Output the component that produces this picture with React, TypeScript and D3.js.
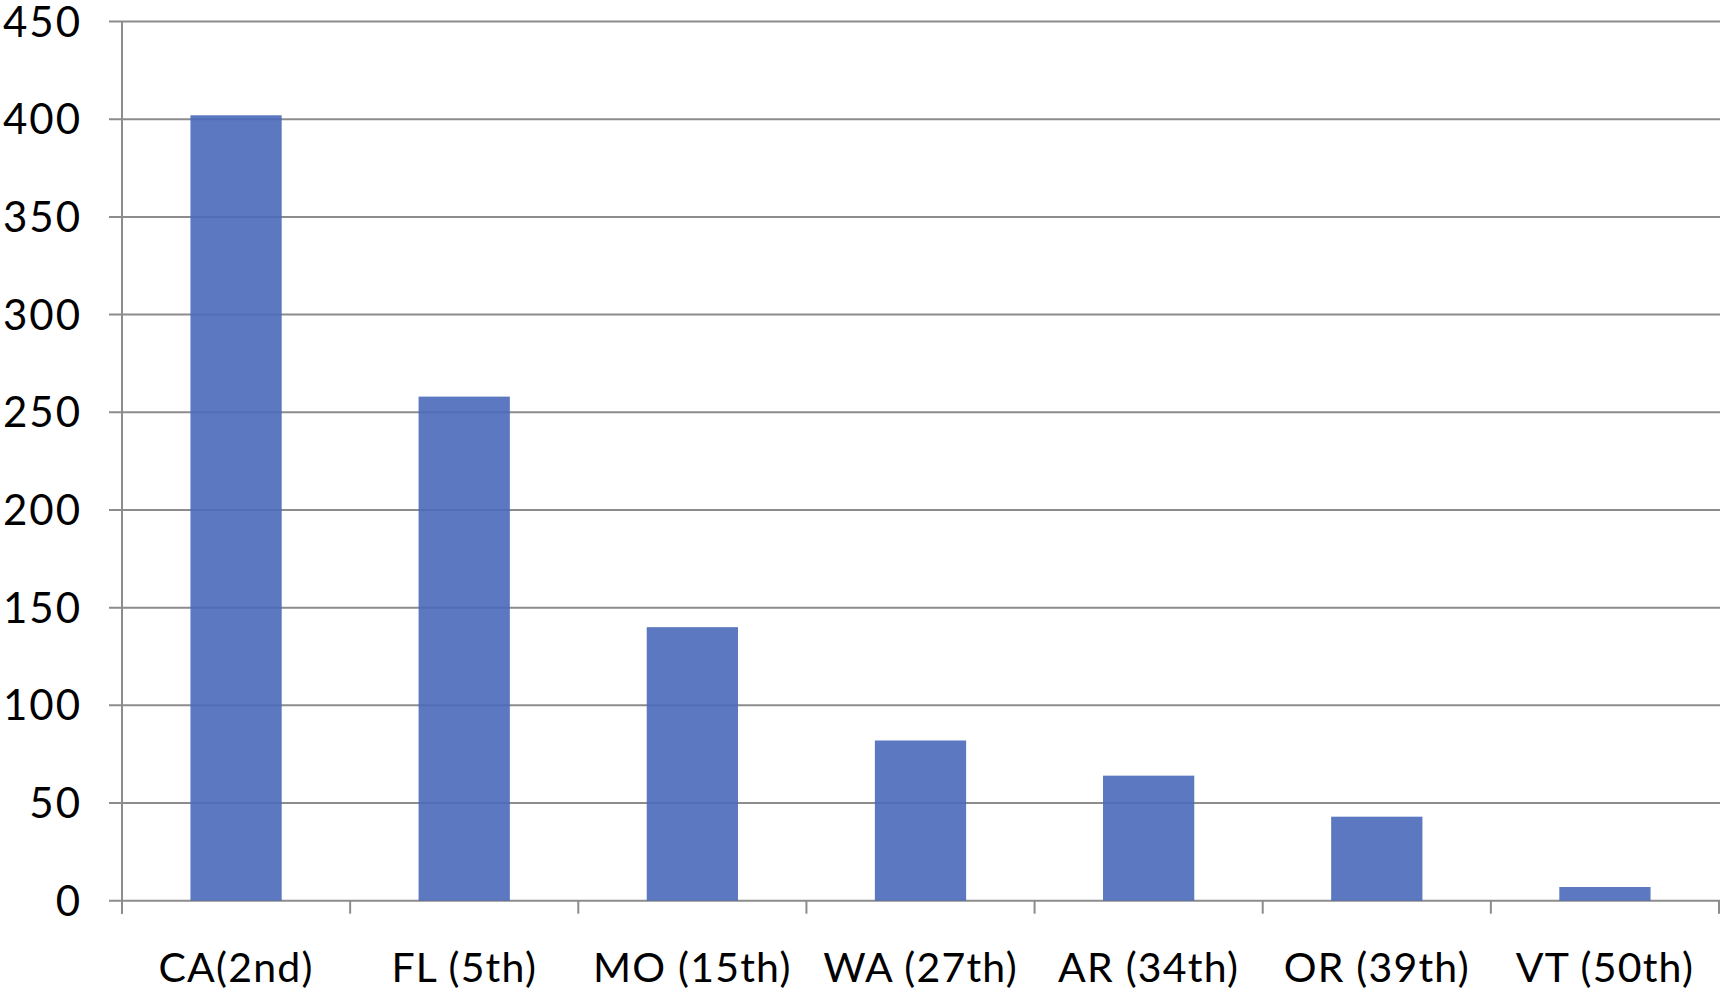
import * as d3 from "d3";

const categories = [
  "CA(2nd)",
  "FL (5th)",
  "MO (15th)",
  "WA (27th)",
  "AR (34th)",
  "OR (39th)",
  "VT (50th)",
];
const values = [402, 258, 140, 82, 64, 43, 7];
const yTicks = [0, 50, 100, 150, 200, 250, 300, 350, 400, 450];

const W = 1721;
const H = 990;
const left = 122;
const right = 1719;
const top = 21.5;
const bottom = 900.7;
const font = "Lato, 'Open Sans', sans-serif";

const App = () => {
  const x = d3
    .scaleBand()
    .domain(categories)
    .range([left, right])
    .paddingInner(0.6)
    .paddingOuter(0.3);
  const y = d3.scaleLinear().domain([0, 450]).range([bottom, top]);
  const step = x.step();
  const bandStart = (c: string) => x(c)! - x.paddingInner() * step / 2;

  return (
    <svg
      width={W}
      height={H}
      style={{ position: "absolute", left: 0, top: 0, background: "#fff" }}
    >
      {/* gridlines */}
      {yTicks.map((t) => (
        <line
          key={t}
          x1={left - 13}
          x2={right + 1}
          y1={y(t)}
          y2={y(t)}
          stroke="#8c8c8c"
          strokeWidth={2}
        />
      ))}
      {/* bars */}
      {categories.map((c, i) => (
        <rect
          key={c}
          x={x(c)}
          y={y(values[i])}
          width={x.bandwidth()}
          height={bottom - y(values[i])}
          fill="#4969b9"
          fillOpacity={0.9}
        />
      ))}
      {/* y axis */}
      <line x1={left} x2={left} y1={top} y2={bottom + 13} stroke="#8c8c8c" strokeWidth={2} />
      {/* x ticks */}
      {[...categories.map((c) => bandStart(c)), right].map((p, i) => (
        <line
          key={i}
          x1={p}
          x2={p}
          y1={bottom}
          y2={bottom + 13}
          stroke="#8c8c8c"
          strokeWidth={2}
        />
      ))}
      {/* y labels */}
      {yTicks.map((t) => (
        <text
          key={t}
          x={82}
          y={y(t)}
          dy="0.36em"
          textAnchor="end"
          fontFamily={font}
          fontSize={42}
          letterSpacing={2}
          fill="#000"
        >
          {t}
        </text>
      ))}
      {/* x labels */}
      {categories.map((c) => (
        <text
          key={c}
          x={x(c)! + x.bandwidth() / 2}
          y={982}
          textAnchor="middle"
          fontFamily={font}
          fontSize={41}
          letterSpacing={1.2}
          fill="#000"
        >
          {c}
        </text>
      ))}
    </svg>
  );
};

export default App;
